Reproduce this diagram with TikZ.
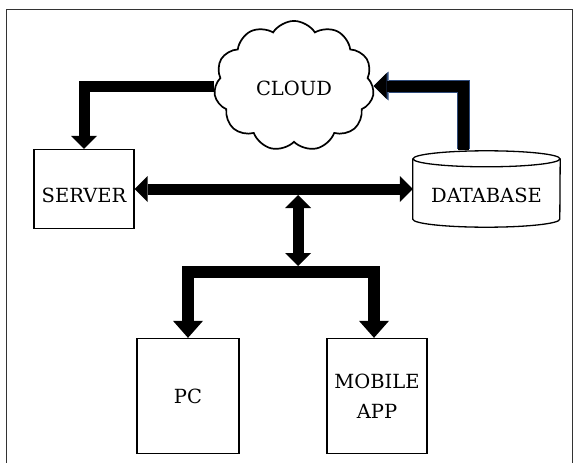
\documentclass[tikz,border=0pt]{standalone}
\usepackage{fontspec}
\setmainfont{DejaVu Serif}
\usetikzlibrary{arrows.meta,shapes.symbols}
\definecolor{edgeblue}{HTML}{2E4A7A}
\tikzset{
  lbl/.style={font=\fontsize{19.5}{30}\selectfont, text=black},
  box/.style={lbl, draw=black, line width=1.3pt, align=center, inner sep=0pt},
  bigarrow/.style={line width=11pt, line join=miter, -{Triangle[width=26pt,length=13pt,line width=0pt]}},
  bluearrow/.style={edgeblue, line width=13pt, line join=miter, -{Triangle[width=29pt,length=15pt,line width=0pt]}},
  bigdouble/.style={line width=11pt, {Triangle[width=26pt,length=13pt,line width=0pt]}-{Triangle[width=26pt,length=13pt,line width=0pt]}},
  branch/.style={line width=12pt, line join=miter, -{Triangle[width=30pt,length=17pt,line width=0pt]}},
}
\begin{document}
\begin{tikzpicture}[x=1pt,y=-1pt]
\useasboundingbox (0,0) rectangle (574,463);
\fill[white] (0,0) rectangle (574,463);
% frame
\draw[line width=1pt, black!80] (6,463) -- (6,9) -- (572,9) -- (572,463);
% nodes
\node[cloud, cloud puffs=11, cloud puff arc=115, draw, line width=1.7pt, minimum width=160pt, minimum height=100pt, lbl] (cloud) at (294,86) {\raisebox{-2pt}[\height][0pt]{CLOUD}};
\node[box, minimum width=100pt, minimum height=79pt] (server) at (84,189) {\raisebox{-6pt}[\height][0pt]{SERVER}};
\node[lbl, minimum width=147pt, minimum height=76pt, inner sep=0pt] (db) at (486.5,189) {\raisebox{-6pt}[\height][0pt]{DATABASE}};
\draw[line width=1.3pt] ([yshift=-8pt]db.north west) -- ([yshift=8pt]db.south west)
  arc[start angle=180, end angle=360, x radius=73.5pt, y radius=8pt]
  -- ([yshift=-8pt]db.north east);
\draw[line width=1.3pt] ([yshift=-8pt]db.north) ellipse [x radius=73.5pt, y radius=8pt];
\node[box, minimum width=102pt, minimum height=115pt] (pc) at (188,396) {PC};
\node[box, minimum width=100pt, minimum height=115pt] (mobile) at (377,396) {MOBILE\\APP};
% connectors
\draw[bigarrow] (cloud.west) -| (server.north);
\draw[bluearrow] ([xshift=-23.5pt,yshift=2pt]db.north) |- (cloud.east);
\draw[bigarrow] ([xshift=-23.5pt,yshift=1pt]db.north) |- (cloud.east);
\draw[bigdouble] (server.east) -- (db.west);
\coordinate (vtop) at (298,195);
\coordinate (vbot) at (298,266);
\draw[bigdouble] (vtop) -- (vbot);
\coordinate (bar) at (298,272);
\draw[branch] (bar) -| (pc.north);
\draw[branch] (bar) -| ([xshift=-3pt]mobile.north);
\end{tikzpicture}
\end{document}
